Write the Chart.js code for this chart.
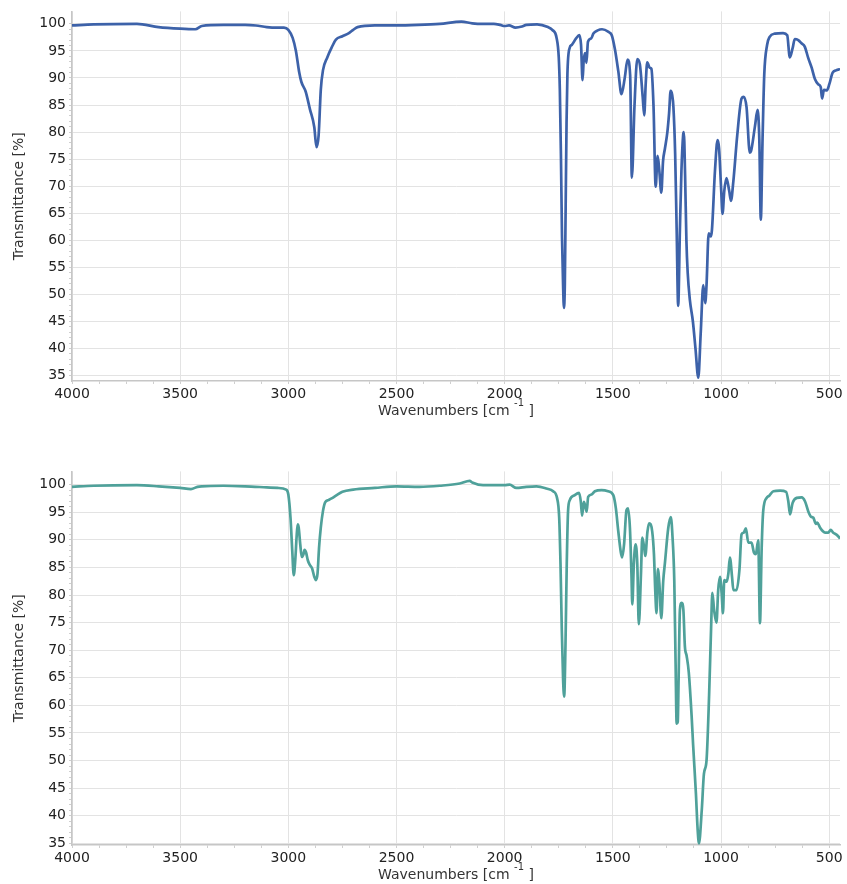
<!DOCTYPE html>
<html>
<head>
<meta charset="utf-8">
<script src="https://cdn.jsdelivr.net/npm/chart.js@4.4.1/dist/chart.umd.min.js"></script>
<style>
body { margin: 0; background: #fff; }
canvas { position: absolute; left: 0; }
#topChart { top: 0; }
#bottomChart { top: 460px; }
</style>
</head>
<body>
<canvas id="topChart" width="847" height="420"></canvas>
<canvas id="bottomChart" width="847" height="424"></canvas>
<script>
// IR spectra, wavenumber (cm-1) vs transmittance (%)
const topWavenumbers = [4000,3900,3700,3600,3500,3430,3400,3300,3200,3150,3100,3050,3020,3000,2980,2965,2950,2940,2920,2900,2880,2870,2860,2850,2840,2820,2800,2780,2750,2720,2700,2680,2600,2500,2400,2300,2200,2150,2100,2050,2020,2000,1980,1950,1920,1900,1850,1800,1780,1760,1750,1745,1740,1735,1730,1726,1722,1718,1714,1710,1700,1690,1670,1655,1647,1640,1635,1628,1622,1615,1600,1590,1570,1550,1520,1505,1490,1475,1460,1445,1432,1420,1412,1400,1387,1375,1362,1355,1348,1341,1330,1322,1312,1302,1293,1285,1276,1268,1259,1248,1240,1233,1226,1220,1212,1205,1198,1190,1183,1175,1172,1166,1160,1154,1144,1130,1118,1105,1094,1082,1073,1067,1057,1048,1042,1028,1016,1009,1000,993,985,975,962,954,943,925,905,895,882,867,861,843,831,823,816,808,800,787,775,751,713,694,682,669,659,643,628,613,597,581,566,550,539,533,524,511,499,484,468,454,450];
const topTransmittance = [99.7,99.9,100.0,99.4,99.1,99.0,99.6,99.8,99.8,99.7,99.4,99.3,99.3,98.9,97.4,95.0,91.1,89.3,87.5,84.2,80.9,77.2,79.4,87.8,91.4,93.8,95.6,97.1,97.7,98.3,98.9,99.4,99.7,99.7,99.8,100.0,100.4,100.1,100.0,100.0,99.8,99.6,99.7,99.3,99.5,99.8,99.9,99.4,98.9,97.4,93.8,87.8,75.8,60.7,51.7,47.5,51.7,66.7,81.7,90.7,95.5,96.1,97.3,97.9,96.1,89.6,93.1,94.6,92.8,96.7,97.3,98.2,98.8,99.0,98.5,97.9,95.2,91.3,87.0,90.0,93.4,90.5,71.6,84.8,93.5,92.5,86.5,83.1,89.0,92.9,91.9,91.7,84.8,69.9,75.6,72.8,68.8,74.6,77.0,80.0,83.5,87.6,86.9,84.6,76.0,62.0,47.9,62.0,72.8,79.5,80.0,72.0,60.0,54.0,49.0,45.0,40.0,34.6,42.7,51.7,48.4,51.7,61.3,60.7,61.9,72.8,78.5,77.0,70.0,64.9,69.1,71.5,69.1,67.3,70.9,79.4,86.2,86.5,84.6,76.2,76.5,81.1,84.1,78.7,63.8,78.7,90.7,96.1,97.6,98.2,98.3,97.9,93.8,95.5,97.2,97.0,96.4,95.8,93.7,91.9,89.8,88.8,88.3,86.2,87.8,87.7,88.9,91.0,91.4,91.6,91.5];

const bottomWavenumbers = [4000,3900,3700,3600,3500,3450,3420,3400,3300,3200,3100,3050,3010,3000,2990,2982,2975,2968,2962,2957,2952,2945,2938,2930,2925,2918,2910,2900,2890,2880,2872,2865,2858,2850,2840,2830,2815,2800,2780,2750,2700,2600,2500,2394,2300,2208,2162,2150,2100,2040,2000,1977,1946,1900,1853,1807,1776,1758,1748,1742,1736,1730,1725,1719,1713,1707,1699,1676,1656,1648,1642,1634,1627,1621,1614,1599,1583,1552,1522,1498,1486,1475,1463,1457,1448,1437,1430,1421,1414,1410,1403,1395,1387,1380,1370,1364,1355,1350,1340,1332,1318,1310,1304,1298,1292,1285,1276,1267,1259,1244,1232,1224,1216,1210,1205,1200,1196,1190,1182,1174,1167,1159,1149,1136,1129,1116,1108,1102,1089,1079,1067,1055,1046,1040,1032,1021,1013,1005,997,991,985,974,966,959,949,943,928,915,905,895,885,874,859,848,839,828,820,812,805,789,777,758,727,699,689,681,669,650,627,612,597,584,573,562,555,542,530,519,504,493,481,465,453,450];
const bottomTransmittance = [99.6,99.8,99.9,99.7,99.4,99.2,99.6,99.7,99.8,99.7,99.5,99.4,99.1,98.2,94.0,88.1,83.6,86.3,90.4,92.8,92.2,89.2,86.9,87.4,88.2,87.7,86.3,85.4,84.8,83.3,82.7,83.9,88.6,92.2,95.2,96.8,97.2,97.5,98.0,98.7,99.1,99.4,99.7,99.6,99.8,100.2,100.7,100.4,99.9,99.9,99.9,100.0,99.4,99.6,99.7,99.3,98.8,97.6,94.0,85.7,73.8,64.8,61.6,70.8,85.7,95.2,97.2,98.1,98.5,96.9,94.4,96.9,96.0,95.1,97.8,98.2,98.8,99.0,98.8,98.1,95.7,91.6,87.7,86.8,89.2,95.4,95.7,92.1,83.8,78.3,85.6,89.2,85.6,74.7,83.8,90.4,88.5,87.1,91.5,93.0,91.5,87.4,80.8,76.7,84.7,82.1,75.8,82.6,85.9,92.1,94.1,90.4,82.6,67.8,56.7,57.0,64.8,77.3,78.6,77.3,70.7,69.0,66.0,58.2,52.9,44.0,37.5,35.0,41.0,47.6,50.0,61.9,73.8,80.4,77.3,75.0,80.9,83.3,80.3,76.7,82.7,82.4,83.9,86.8,83.3,80.9,80.9,84.5,91.0,91.3,92.1,89.5,89.5,87.7,87.4,89.9,74.9,88.6,95.2,97.6,98.0,98.8,98.9,98.7,97.0,94.6,96.7,97.6,97.7,97.0,95.2,94.2,94.0,92.9,93.1,92.2,91.6,91.3,91.3,91.8,91.3,90.9,90.4,90.2];

// axis ticks: labelled majors, unlabelled minors
const xTickLabels = [500,1000,1500,2000,2500,3000,3500,4000];
const xTickValues = [500,625,750,875,1000,1125,1250,1375,1500,1625,1750,1875,2000,2125,2250,2375,2500,2625,2750,2875,3000,3125,3250,3375,3500,3625,3750,3875,4000];
const yTickLabels = [35,40,45,50,55,60,65,70,75,80,85,90,95,100];
const yTickValues = [];
for (let v = 35; v <= 100; v++) yTickValues.push(v);

const xTitleMain = 'Wavenumbers [cm';
const xTitleSup = '-1';
const xTitleEnd = ']';
const yTitle = 'Transmittance [%]';

Chart.defaults.font.family = '"DejaVu Sans", Verdana, sans-serif';
Chart.defaults.font.size = 14;

// x axis title with raised exponent
const axisTitle = {
  id: 'axisTitle',
  afterDraw(chart) {
    const {ctx, chartArea: a} = chart;
    const base = a.bottom + 34;
    const big = '14px "DejaVu Sans"', small = '10px "DejaVu Sans"';
    ctx.save();
    ctx.fillStyle = '#333';
    ctx.textAlign = 'left';
    ctx.textBaseline = 'alphabetic';
    ctx.font = big;
    const w1 = ctx.measureText(xTitleMain + ' ').width;
    const w3 = ctx.measureText(' ' + xTitleEnd).width;
    ctx.font = small;
    const w2 = ctx.measureText(xTitleSup).width;
    let x = (a.left + a.right) / 2 - (w1 + w2 + w3) / 2;
    ctx.font = big;
    ctx.fillText(xTitleMain, x, base);
    x += w1;
    ctx.font = small;
    ctx.fillText(xTitleSup, x, base - 9);
    x += w2;
    ctx.font = big;
    ctx.fillText(' ' + xTitleEnd, x, base);
    ctx.restore();
  }
};

function spectrum(id, xs, ys, color, yMin, yMax, padTop) {
  return new Chart(document.getElementById(id), {
    type: 'line',
    data: {
      datasets: [{
        data: xs.map((x, i) => ({x, y: ys[i]})),
        borderColor: color,
        borderWidth: 2.7,
        pointRadius: 0,
        fill: false,
        cubicInterpolationMode: 'monotone'
      }]
    },
    options: {
      responsive: false,
      animation: false,
      layout: {padding: {top: padTop, right: 7, left: 0, bottom: 0}},
      plugins: {legend: {display: false}, tooltip: {enabled: false}},
      scales: {
        x: {
          type: 'linear', reverse: true, min: 450, max: 4000,
          afterBuildTicks: s => { s.ticks = xTickValues.map(v => ({value: v})); },
          afterFit: s => { s.height = 39; },
          ticks: {autoSkip: false, maxRotation: 0, padding: 2, color: '#222',
            callback: v => xTickLabels.includes(v) ? String(v) : ''},
          grid: {color: c => (c.tick && xTickLabels.includes(c.tick.value)) ? '#e3e3e3' : 'rgba(0,0,0,0)',
            tickColor: '#cfcfcf', tickLength: 3},
          border: {color: '#c6c6c6', width: 1.5}
        },
        y: {
          min: yMin, max: yMax,
          afterBuildTicks: s => { s.ticks = yTickValues.map(v => ({value: v})); },
          afterFit: s => { s.width = 72; },
          ticks: {autoSkip: false, padding: 3, color: '#222',
            callback: v => yTickLabels.includes(v) ? String(v) : ''},
          grid: {color: c => (c.tick && yTickLabels.includes(c.tick.value)) ? '#e3e3e3' : 'rgba(0,0,0,0)',
            tickColor: '#cfcfcf', tickLength: 3},
          border: {color: '#c6c6c6', width: 1.5},
          title: {display: true, text: yTitle, color: '#333', padding: {top: 11, bottom: 0}}
        }
      }
    },
    plugins: [axisTitle]
  });
}

spectrum('topChart', topWavenumbers, topTransmittance, '#3d62a9', 34.0, 102.3, 2);
spectrum('bottomChart', bottomWavenumbers, bottomTransmittance, '#4fa19a', 34.7, 102.4, 6);
</script>
</body>
</html>
